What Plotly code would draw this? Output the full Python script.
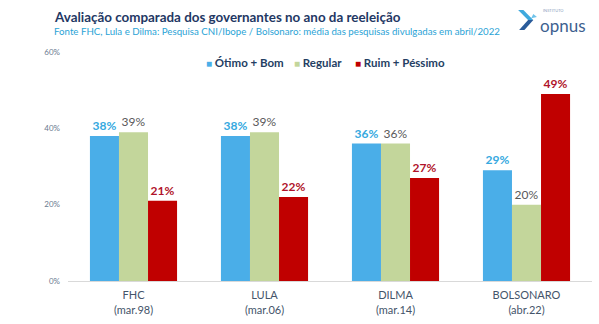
import plotly.graph_objects as go

# Categories (president + survey date) and approval series, in %
categories = ["FHC<br>(mar.98)", "LULA<br>(mar.06)", "DILMA<br>(mar.14)", "BOLSONARO<br>(abr.22)"]
otimo_bom = [38, 38, 36, 29]
regular = [39, 39, 36, 20]
ruim_pessimo = [21, 22, 27, 49]
y_ticks = [0, 20, 40, 60]

FONT = "Lato, Calibri, Arial, sans-serif"
BLUE = "#4aaee8"
GREEN = "#c3d69b"
RED = "#c00000"
NAVY = "#243e63"

fig = go.Figure()

series = [
    ("Ótimo + Bom", otimo_bom, BLUE, dict(color="#36a9e0", size=12, family=FONT, weight="bold")),
    ("Regular", regular, GREEN, dict(color="#595959", size=12, family=FONT)),
    ("Ruim + Péssimo", ruim_pessimo, RED, dict(color="#b0132a", size=12, family=FONT, weight="bold")),
]
for name, vals, color, tfont in series:
    fig.add_trace(go.Bar(
        name=name,
        x=categories,
        y=vals,
        marker=dict(color=color, line=dict(width=0)),
        text=[f"{v}%" for v in vals],
        textposition="outside",
        textfont=tfont,
        cliponaxis=False,
        showlegend=False,
    ))

# Compact legend row drawn as annotations (square swatch + label)
legend_x = [0.2595, 0.4275, 0.5445]
legend_notes = [
    dict(text=f"<span style='color:{color};font-size:10px'>■</span> {name}",
         xref="paper", yref="paper", x=lx, y=0.952, xanchor="left", yanchor="middle",
         font=dict(size=11.5, color=NAVY, family=FONT, weight="bold"), showarrow=False)
    for (name, _, color, _), lx in zip(series, legend_x)
]

fig.update_layout(
    width=599,
    height=324,
    margin=dict(l=68, r=7, t=52, b=43),
    paper_bgcolor="white",
    plot_bgcolor="white",
    barmode="group",
    bargap=0.335,
    bargroupgap=0,
    font=dict(family=FONT),
    showlegend=False,
    xaxis=dict(
        showgrid=False,
        showline=True,
        linecolor="#d9d9d9",
        linewidth=1,
        ticks="",
        ticklabelstandoff=4,
        tickfont=dict(size=11, color="#44546a", family=FONT),
    ),
    yaxis=dict(
        range=[0, 60],
        tickvals=y_ticks,
        ticktext=[f"{v}%" for v in y_ticks],
        showgrid=False,
        zeroline=False,
        showline=False,
        ticks="",
        ticklabelstandoff=7,
        tickfont=dict(size=8, color="#6b7a90", family=FONT),
    ),
    annotations=legend_notes + [
        dict(text="<b>Avaliação comparada dos governantes no ano da reeleição</b>",
             xref="paper", yref="paper", x=-0.0305, y=1.153, xanchor="left", yanchor="middle",
             font=dict(size=13.4, color="#1f3864", family=FONT), showarrow=False),
        dict(text="Fonte FHC, Lula e Dilma: Pesquisa CNI/Ibope / Bolsonaro: média das pesquisas divulgadas em abril/2022",
             xref="paper", yref="paper", x=-0.0305, y=1.092, xanchor="left", yanchor="middle",
             font=dict(size=9.7, color="#2aa3d6", family=FONT), showarrow=False),
        dict(text="INSTITUTO", xref="paper", yref="paper", x=0.903, y=1.180,
             xanchor="left", yanchor="middle",
             font=dict(size=4, color="#8aa0bd", family=FONT), showarrow=False),
        dict(text="opnus", xref="paper", yref="paper", x=0.896, y=1.116,
             xanchor="left", yanchor="middle",
             font=dict(size=17, color="#3d5f8f", family=FONT), showarrow=False),
    ],
    shapes=[
        # stylised "X" mark of the logo
        dict(type="path", xref="paper", yref="paper",
             path="M 0.859 1.183 L 0.869 1.183 L 0.888 1.140 L 0.878 1.140 Z",
             fillcolor="#3fa9dd", line=dict(width=0)),
        dict(type="path", xref="paper", yref="paper",
             path="M 0.878 1.140 L 0.888 1.140 L 0.871 1.096 L 0.861 1.096 Z",
             fillcolor="#2a5b9a", line=dict(width=0)),
        dict(type="path", xref="paper", yref="paper",
             path="M 0.888 1.166 L 0.895 1.153 L 0.884 1.147 Z",
             fillcolor="#6fc3ea", line=dict(width=0)),
    ],
)

fig.write_html("out.html")
